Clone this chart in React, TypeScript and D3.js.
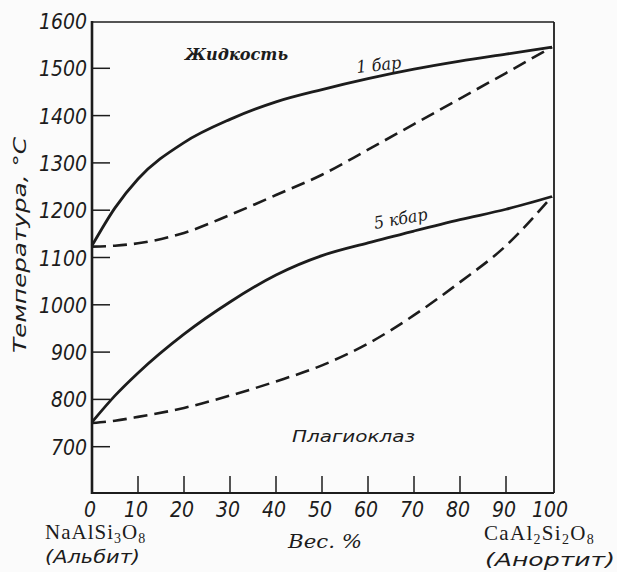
import React from "react";
import * as d3 from "d3";

const composition = [0, 5, 10, 20, 30, 40, 50, 60, 70, 80, 90, 100];
const liquidus1bar = [1125, 1205, 1266, 1343, 1392, 1429, 1455, 1478, 1498, 1515, 1530, 1545];
const solidus1bar = [1123, 1125, 1130, 1152, 1190, 1232, 1275, 1328, 1382, 1436, 1490, 1545];
const liquidus5kbar = [752, 808, 856, 938, 1006, 1063, 1104, 1131, 1156, 1180, 1202, 1229];
const solidus5kbar = [750, 755, 763, 782, 808, 838, 872, 918, 978, 1048, 1125, 1229];
const yTicks = [700, 800, 900, 1000, 1100, 1200, 1300, 1400, 1500];
const yTickLabels = [700, 800, 900, 1000, 1100, 1200, 1300, 1400, 1500, 1600];
const xTicks = [10, 20, 30, 40, 50, 60, 70, 80, 90];
const xTickLabels = [0, 10, 20, 30, 40, 50, 60, 70, 80, 90, 100];

const W = 617;
const H = 572;
const left = 92, right = 552, top = 21, bottom = 494;

export default function App() {
  const x = d3.scaleLinear().domain([0, 100]).range([left, right]);
  const y = d3.scaleLinear().domain([600, 1600]).range([bottom, top]);
  const line = d3
    .line<[number, number]>()
    .x((d) => x(d[0]))
    .y((d) => y(d[1]))
    .curve(d3.curveMonotoneX);
  const pts = (arr: number[]) => composition.map((c, i) => [c, arr[i]] as [number, number]);

  const tickFont = "'Liberation Sans Narrow', 'DejaVu Sans Condensed', 'Liberation Sans', sans-serif";
  const serif = "'Liberation Serif', 'DejaVu Serif', serif";
  const wideSerif = "'DejaVu Serif', 'Liberation Serif', serif";
  const wideSans = "'DejaVu Sans', 'Liberation Sans', sans-serif";
  const ink = "#1c1c1c";

  return (
    <svg width={W} height={H} style={{ position: "absolute", left: 0, top: 0, background: "#fbfbfb" }}>
      <rect x={0} y={0} width={W} height={H} fill="#fbfbfb" />
      {/* frame */}
      <line x1={left} x2={right + 2} y1={top + 1} y2={top + 1} stroke={ink} strokeWidth={1.6} />
      <line x1={right + 2} x2={right + 2} y1={top + 1} y2={bottom - 1} stroke={ink} strokeWidth={1.8} />
      <line x1={left} x2={right + 2} y1={bottom - 1} y2={bottom - 1} stroke={ink} strokeWidth={2.2} />
      <line x1={left} x2={left} y1={top} y2={bottom} stroke={ink} strokeWidth={2.6} />
      {/* y ticks */}
      {yTicks.map((t) => (
        <line key={"yt" + t} x1={left} x2={left + 18} y1={y(t)} y2={y(t)} stroke={ink} strokeWidth={1.5} />
      ))}
      {yTickLabels.map((t) => (
        <text
          key={"yl" + t}
          x={left - 5}
          y={y(t) + 8}
          textAnchor="end"
          fontFamily={tickFont}
          fontStyle="italic"
          fontSize={21}
          fill={ink}
        >
          {t}
        </text>
      ))}
      {/* x ticks */}
      {xTicks.map((t) => (
        <line key={"xt" + t} x1={x(t)} x2={x(t)} y1={bottom - 2} y2={bottom - 18} stroke={ink} strokeWidth={1.5} />
      ))}
      {xTickLabels.map((t) => (
        <text
          key={"xl" + t}
          x={x(t) - 2}
          y={517}
          textAnchor="middle"
          fontFamily={tickFont}
          fontStyle="italic"
          fontSize={21}
          fill={ink}
        >
          {t}
        </text>
      ))}
      {/* curves */}
      <path d={line(pts(liquidus1bar)) || ""} fill="none" stroke={ink} strokeWidth={2.8} />
      <path d={line(pts(solidus1bar)) || ""} fill="none" stroke={ink} strokeWidth={2.6} strokeDasharray="14 7" />
      <path d={line(pts(liquidus5kbar)) || ""} fill="none" stroke={ink} strokeWidth={2.8} />
      <path d={line(pts(solidus5kbar)) || ""} fill="none" stroke={ink} strokeWidth={2.6} strokeDasharray="14 7" />

      {/* region and curve labels */}
      <text x={185} y={60} fontFamily={wideSerif} fontStyle="italic" fontWeight="bold" fontSize={17} fill={ink} textLength={103} lengthAdjust="spacingAndGlyphs">
        Жидкость
      </text>
      <text x={357} y={73} fontFamily={wideSerif} fontStyle="italic" fontSize={17} fill={ink} transform="rotate(-6 357 73)" textLength={45} lengthAdjust="spacingAndGlyphs">
        1 бар
      </text>
      <text x={375} y={229} fontFamily={wideSerif} fontStyle="italic" fontSize={17} fill={ink} transform="rotate(-10 375 229)" textLength={54} lengthAdjust="spacingAndGlyphs">
        5 кбар
      </text>
      <text x={292} y={442} fontFamily={wideSans} fontStyle="italic" fontSize={16} fill={ink} textLength={123} lengthAdjust="spacingAndGlyphs">
        Плагиоклаз
      </text>

      {/* axis titles */}
      <text
        x={0}
        y={0}
        transform="translate(26 245) rotate(-90)"
        textAnchor="middle"
        fontFamily={wideSans}
        fontStyle="italic"
        fontSize={18}
        fill={ink}
        textLength={216}
        lengthAdjust="spacingAndGlyphs"
      >
        Температура, °C
      </text>
      <text x={288} y={548} fontFamily={wideSerif} fontStyle="italic" fontSize={18} fill={ink} textLength={74} lengthAdjust="spacingAndGlyphs">
        Вес. %
      </text>

      {/* end members */}
      <text x={45} y={539} fontFamily={serif} fontSize={21} fill={ink} letterSpacing={1}>
        NaAlSi<tspan fontSize={14} dy={4}>3</tspan>
        <tspan dy={-4}>O</tspan>
        <tspan fontSize={14} dy={4}>8</tspan>
      </text>
      <text x={45} y={563} fontFamily={wideSans} fontStyle="italic" fontSize={17} fill={ink} textLength={95} lengthAdjust="spacingAndGlyphs">
        (Альбит)
      </text>
      <text x={484} y={540} fontFamily={serif} fontSize={21} fill={ink} letterSpacing={1.3}>
        CaAl<tspan fontSize={14} dy={4}>2</tspan>
        <tspan dy={-4}>Si</tspan>
        <tspan fontSize={14} dy={4}>2</tspan>
        <tspan dy={-4}>O</tspan>
        <tspan fontSize={14} dy={4}>8</tspan>
      </text>
      <text x={485} y={566} fontFamily={wideSans} fontStyle="italic" fontSize={17} fill={ink} textLength={130} lengthAdjust="spacingAndGlyphs">
        (Анортит)
      </text>
    </svg>
  );
}
